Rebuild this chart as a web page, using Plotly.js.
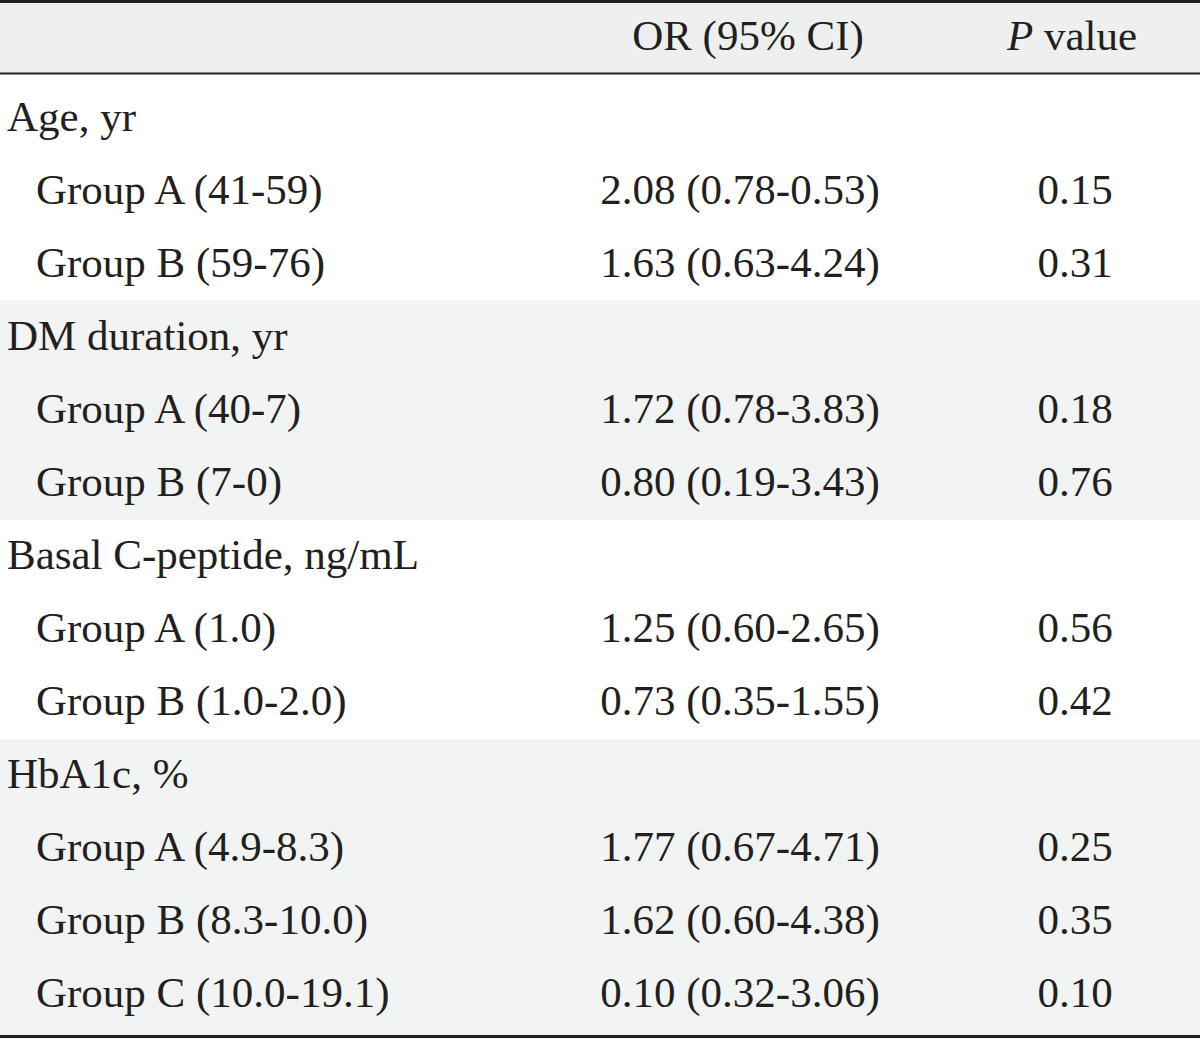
<!DOCTYPE html>
<html>
<head>
<meta charset="utf-8">
<script src="https://cdn.plot.ly/plotly-3.0.1.min.js"></script>
<style>html,body{margin:0;padding:0;background:#fff;}#chart{width:1200px;height:1039px;}</style>
</head>
<body>
<div id="chart"></div>
<script>
// ---- data ----
var columnHeaders = ["OR (95% CI)", "<i>P</i> value"];
var sectionTitles = ["Age, yr", "DM duration, yr", "Basal C-peptide, ng/mL", "HbA1c, %"];
var groupLabels = [
  ["Group A (41-59)", "Group B (59-76)"],
  ["Group A (40-7)", "Group B (7-0)"],
  ["Group A (1.0)", "Group B (1.0-2.0)"],
  ["Group A (4.9-8.3)", "Group B (8.3-10.0)", "Group C (10.0-19.1)"]
];
var oddsRatio = [2.08, 1.63, 1.72, 0.80, 1.25, 0.73, 1.77, 1.62, 0.10];
var ciLow     = [0.78, 0.63, 0.78, 0.19, 0.60, 0.35, 0.67, 0.60, 0.32];
var ciHigh    = [0.53, 4.24, 3.83, 3.43, 2.65, 1.55, 4.71, 4.38, 3.06];
var pValues   = [0.15, 0.31, 0.18, 0.76, 0.56, 0.42, 0.25, 0.35, 0.10];

// ---- build rows ----
var ink = "#231f20";
var fontFam = "Liberation Serif, Times New Roman, serif";
var fs = 43;
var W = 1200, H = 1039, rowPx = 73;
var topY = -118.5 / rowPx;
var botY = topY + H / rowPx;
var textDy = 2 / rowPx;

var titleY = [], titleX = [], titleT = [];
var grpY = [], grpX = [], grpT = [];
var orY = [], orT = [], pY = [], pT = [];
var bands = [];
var row = 0, k = 0;
sectionTitles.forEach(function (t, s) {
  var start = row;
  titleY.push(row + textDy); titleT.push(t); titleX.push(7 / W);
  row++;
  groupLabels[s].forEach(function (g) {
    grpY.push(row + textDy); grpT.push(g); grpX.push(36 / W);
    orY.push(row + textDy);
    orT.push(oddsRatio[k].toFixed(2) + " (" + ciLow[k].toFixed(2) + "-" + ciHigh[k].toFixed(2) + ")");
    pY.push(row + textDy); pT.push(pValues[k].toFixed(2));
    k++; row++;
  });
  if (s % 2 === 1) bands.push([start - 0.5, row - 0.5]);
});
var nRows = row;

var colX1 = 740 / W, colX2 = 1075 / W;
var hdrX1 = 748 / W, hdrX2 = 1072 / W;
var headerY = topY + 39.5 / rowPx;
var headerLineY = topY + 73.5 / rowPx;
var baseText = {family: fontFam, size: fs, color: ink};

var traces = [
  {x: [hdrX1, hdrX2], y: [headerY, headerY], text: columnHeaders, mode: "text",
   textposition: "middle center", textfont: baseText, hoverinfo: "skip", type: "scatter"},
  {x: titleX, y: titleY, text: titleT, mode: "text", textposition: "middle right",
   textfont: baseText, hoverinfo: "skip", type: "scatter"},
  {x: grpX, y: grpY, text: grpT, mode: "text", textposition: "middle right",
   textfont: baseText, hoverinfo: "skip", type: "scatter"},
  {x: orY.map(function () { return colX1; }), y: orY, text: orT, mode: "text",
   textposition: "middle center", textfont: baseText, hoverinfo: "skip", type: "scatter"},
  {x: pY.map(function () { return colX2; }), y: pY, text: pT, mode: "text",
   textposition: "middle center", textfont: baseText, hoverinfo: "skip", type: "scatter"}
];

var shapes = [];
// header band
shapes.push({type: "rect", xref: "paper", yref: "y", x0: 0, x1: 1, y0: topY, y1: headerLineY,
  fillcolor: "#eeefef", line: {width: 0}, layer: "below"});
bands.forEach(function (b) {
  var y1 = (b[1] >= nRows - 0.5) ? botY : b[1];
  shapes.push({type: "rect", xref: "paper", yref: "y", x0: 0, x1: 1, y0: b[0], y1: y1,
    fillcolor: "#f2f3f3", line: {width: 0}, layer: "below"});
});
// rules
shapes.push({type: "line", xref: "paper", yref: "paper", x0: 0, x1: 1, y0: 1 - 1.5 / H, y1: 1 - 1.5 / H,
  line: {color: ink, width: 3}});
shapes.push({type: "line", xref: "paper", yref: "y", x0: 0, x1: 1, y0: headerLineY, y1: headerLineY,
  line: {color: ink, width: 2}});
shapes.push({type: "line", xref: "paper", yref: "paper", x0: 0, x1: 1, y0: 2.5 / H, y1: 2.5 / H,
  line: {color: ink, width: 3}});

var layout = {
  width: W, height: H,
  margin: {l: 0, r: 0, t: 0, b: 0, pad: 0},
  paper_bgcolor: "#ffffff", plot_bgcolor: "#ffffff",
  showlegend: false,
  xaxis: {range: [0, 1], visible: false, fixedrange: true},
  yaxis: {range: [botY, topY], visible: false, fixedrange: true},
  shapes: shapes
};

Plotly.newPlot("chart", traces, layout, {displayModeBar: false, staticPlot: true});
</script>
</body>
</html>
